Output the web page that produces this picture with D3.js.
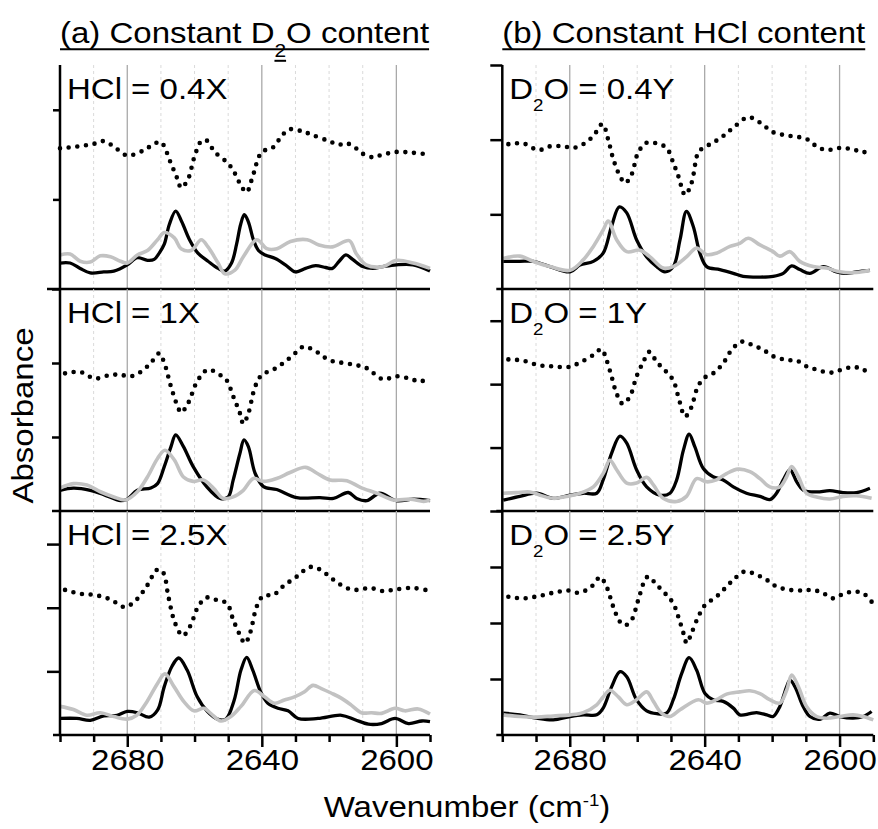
<!DOCTYPE html>
<html>
<head>
<meta charset="utf-8">
<script src="https://cdn.jsdelivr.net/npm/d3@7/dist/d3.min.js"></script>
<style>
  body { margin: 0; background: #fff; }
</style>
</head>
<body>
<svg id="chart" width="878" height="829"></svg>
<script>
// ---------------- data ----------------
// wavenumber ticks (cm-1)
const majorTicks = [2680, 2640, 2600];
const allTicks = [2700, 2690, 2680, 2670, 2660, 2650, 2640, 2630, 2620, 2610, 2600, 2590];
const wnDomain = [2700, 2590];

// column titles and panel labels
const titleA = ["(a) Constant D", "2", "O content"];
const titleB = ["(b) Constant HCl content"];
const labelsA = ["HCl = 0.4X", "HCl = 1X", "HCl = 2.5X"];
const labelsB = ["0.4Y", "1Y", "2.5Y"];   // shown as "D2O = ..."

// vertical extent of each panel in tick units
const yMaxA = [2.5, 3.0, 3.52];
const yMaxB = [3.0, 3.5, 4.0];

// spectra: [wavenumber, absorbance (tick units)]
const a1Dotted = [[2700,1.57],[2695,1.59],[2690,1.62],[2687,1.65],[2684,1.59],[2680,1.49],[2675,1.55],[2672,1.62],[2670,1.64],[2667,1.40],[2665,1.22],[2664,1.13],[2662,1.22],[2660,1.48],[2658,1.65],[2656.5,1.66],[2654,1.53],[2650,1.40],[2648,1.29],[2646,1.14],[2644.5,1.08],[2643,1.22],[2640,1.53],[2637,1.57],[2635,1.66],[2632,1.78],[2628,1.76],[2625,1.72],[2620,1.65],[2617,1.61],[2615,1.63],[2612,1.57],[2610,1.51],[2607,1.47],[2605,1.49],[2600,1.53],[2595,1.52],[2590,1.50]];
const a1Black = [[2700,0.29],[2697,0.29],[2694,0.23],[2691,0.18],[2687,0.19],[2684,0.20],[2680,0.27],[2677,0.35],[2674,0.32],[2672,0.33],[2670.5,0.40],[2669,0.50],[2667.5,0.72],[2665.6,0.87],[2663.8,0.75],[2661.5,0.55],[2659,0.40],[2656,0.31],[2653,0.23],[2651,0.20],[2649,0.29],[2647.5,0.50],[2646.3,0.72],[2645.2,0.83],[2644,0.75],[2642.5,0.55],[2641,0.43],[2639,0.38],[2636,0.34],[2633,0.27],[2630,0.19],[2627,0.23],[2624,0.26],[2621,0.24],[2619,0.23],[2617,0.31],[2615,0.38],[2613,0.33],[2610,0.25],[2607,0.23],[2604,0.25],[2600,0.27],[2595,0.27],[2590,0.20]];
const a1Gray = [[2700,0.38],[2697,0.39],[2694,0.31],[2691,0.30],[2688,0.37],[2685,0.36],[2682,0.31],[2680,0.29],[2677,0.38],[2674,0.43],[2671,0.55],[2669,0.63],[2666,0.57],[2664,0.45],[2661,0.43],[2658,0.55],[2656,0.47],[2653,0.29],[2651,0.17],[2648,0.21],[2645.5,0.36],[2641.5,0.55],[2638.5,0.45],[2635.5,0.45],[2631.5,0.53],[2626.5,0.55],[2623,0.49],[2619,0.47],[2614,0.54],[2612,0.40],[2609,0.27],[2604,0.25],[2600,0.32],[2595,0.29],[2590,0.23]];

const a2Dotted = [[2698.5,1.86],[2694,1.88],[2689.6,1.79],[2685,1.84],[2682,1.84],[2679,1.82],[2676,1.88],[2673,2.00],[2670.5,2.13],[2669,2.00],[2667,1.68],[2665,1.41],[2664,1.33],[2662,1.45],[2659,1.77],[2656,1.91],[2652.5,1.84],[2650.5,1.77],[2648.5,1.55],[2646.5,1.32],[2645.5,1.18],[2644,1.32],[2642,1.68],[2640,1.84],[2636.6,1.91],[2633.6,2.00],[2630.6,2.11],[2627.7,2.22],[2624.7,2.18],[2620,2.04],[2615.8,2.00],[2611.8,1.97],[2608.8,1.93],[2604,1.78],[2600,1.82],[2596,1.79],[2593,1.75],[2590.5,1.79]];
const a2Black = [[2700,0.28],[2696,0.31],[2691,0.28],[2687,0.22],[2682,0.14],[2680,0.16],[2677,0.28],[2673,0.31],[2671,0.37],[2669,0.60],[2667,0.87],[2665.6,1.03],[2663.3,0.87],[2660.4,0.60],[2656.4,0.33],[2652.4,0.17],[2650,0.19],[2648.5,0.42],[2646.5,0.78],[2645.3,0.96],[2644,0.87],[2642,0.51],[2639.5,0.33],[2635.6,0.29],[2629.6,0.18],[2622.7,0.18],[2618.7,0.17],[2614.3,0.25],[2611.8,0.17],[2608.8,0.14],[2604.9,0.24],[2600,0.14],[2595,0.16],[2590,0.14]];
const a2Gray = [[2700,0.31],[2696,0.37],[2692,0.35],[2688,0.26],[2684,0.19],[2680.5,0.15],[2677,0.26],[2674,0.46],[2671,0.71],[2668.8,0.82],[2666,0.69],[2663.3,0.46],[2660.4,0.40],[2657.4,0.42],[2654.4,0.31],[2651.5,0.17],[2648.5,0.19],[2645.5,0.28],[2642.5,0.44],[2639.5,0.40],[2635.6,0.44],[2631.6,0.52],[2627,0.59],[2623.6,0.51],[2619.7,0.42],[2614.7,0.41],[2610.7,0.32],[2605.8,0.24],[2600.9,0.15],[2595.9,0.16],[2591.9,0.13],[2590,0.15]];

const a3Dotted = [[2698.5,2.28],[2694,2.22],[2689.6,2.20],[2685,2.13],[2680.7,2.01],[2677.2,2.13],[2674.2,2.34],[2671,2.60],[2669.3,2.55],[2667.8,2.18],[2665.8,1.76],[2663.5,1.56],[2661.3,1.71],[2658.9,2.02],[2656.4,2.16],[2653.4,2.12],[2650.4,2.07],[2648.5,1.81],[2646.5,1.57],[2645,1.44],[2643.5,1.60],[2641.5,2.02],[2639.5,2.19],[2636.6,2.20],[2633.6,2.34],[2629.6,2.49],[2625.7,2.64],[2622.7,2.60],[2618.7,2.44],[2614.8,2.31],[2611.8,2.28],[2607.8,2.31],[2603.9,2.26],[2600,2.29],[2595,2.31],[2590.5,2.27]];
const a3Black = [[2700,0.26],[2695,0.26],[2691,0.23],[2687,0.30],[2683,0.31],[2680,0.37],[2677,0.35],[2673.5,0.28],[2671,0.39],[2669,0.76],[2666.7,1.08],[2664.7,1.21],[2662.2,1.02],[2659.2,0.60],[2656.2,0.37],[2653.2,0.25],[2650.7,0.25],[2648.2,0.55],[2646.2,1.02],[2644.5,1.22],[2642.7,1.02],[2640.2,0.66],[2638.2,0.50],[2635.2,0.42],[2632.2,0.38],[2629.2,0.26],[2623.3,0.26],[2616.3,0.31],[2612.3,0.24],[2608.3,0.17],[2604.4,0.18],[2600.4,0.26],[2596.4,0.18],[2592.4,0.22],[2590,0.21]];
const a3Gray = [[2700,0.45],[2696,0.40],[2692,0.31],[2688,0.35],[2684,0.29],[2680,0.25],[2677.2,0.31],[2674.2,0.52],[2671,0.81],[2668.8,0.96],[2666.1,0.76],[2663.1,0.52],[2660.2,0.38],[2657.2,0.42],[2655.2,0.34],[2652.2,0.22],[2649.2,0.29],[2646.2,0.45],[2642.2,0.70],[2639.2,0.60],[2636.2,0.50],[2633.3,0.55],[2630.3,0.60],[2627.3,0.68],[2624.8,0.78],[2622.3,0.73],[2619.4,0.66],[2616.4,0.58],[2613.4,0.47],[2610.4,0.35],[2607.4,0.35],[2604.4,0.34],[2600.4,0.42],[2597.5,0.38],[2593.5,0.41],[2590,0.33]];

const b1Dotted = [[2698.2,1.94],[2693.8,1.95],[2689.3,1.86],[2685.9,1.91],[2681.9,1.91],[2679,1.89],[2676,1.94],[2673,2.05],[2670.3,2.21],[2668.6,2.00],[2667.1,1.74],[2665.1,1.51],[2663.6,1.42],[2661.7,1.53],[2659.7,1.83],[2657.2,1.96],[2654.2,1.95],[2651.3,1.89],[2649.3,1.69],[2647.8,1.51],[2645.8,1.26],[2643.9,1.42],[2641.9,1.83],[2640.4,1.89],[2637.5,1.96],[2634.5,2.05],[2631.5,2.16],[2627.1,2.30],[2623.6,2.23],[2619.7,2.10],[2614.7,2.05],[2609.8,2.01],[2606.8,1.91],[2603.9,1.86],[2599.9,1.89],[2596,1.87],[2593,1.83],[2591,1.87]];
const b1Black = [[2699.7,0.37],[2694.8,0.37],[2690.8,0.37],[2685.9,0.30],[2679.9,0.23],[2677,0.32],[2673,0.37],[2670.1,0.48],[2667.6,0.84],[2665.3,1.10],[2663.1,1.02],[2660.2,0.66],[2657.2,0.43],[2654.2,0.30],[2651.8,0.23],[2649.3,0.30],[2647.3,0.66],[2645.4,1.04],[2643.4,0.84],[2641.4,0.48],[2639.4,0.30],[2635.5,0.26],[2631.5,0.21],[2628.6,0.17],[2623.6,0.16],[2619.7,0.17],[2616.7,0.21],[2614.2,0.31],[2611.8,0.26],[2608.8,0.21],[2604.8,0.30],[2600.9,0.23],[2597.9,0.21],[2595,0.23],[2591,0.25]];
const b1Gray = [[2699.7,0.41],[2694.8,0.44],[2690.8,0.37],[2685.9,0.30],[2679.9,0.25],[2676,0.39],[2673,0.57],[2670.1,0.79],[2668.6,0.91],[2666.1,0.66],[2663.1,0.50],[2659.2,0.52],[2656.2,0.43],[2652.3,0.28],[2649.3,0.30],[2645.4,0.43],[2642.4,0.55],[2639.4,0.46],[2636.5,0.48],[2632.5,0.57],[2629.6,0.61],[2627.1,0.68],[2623.6,0.59],[2619.7,0.50],[2617.7,0.44],[2614.7,0.50],[2611.8,0.37],[2607.8,0.30],[2603.9,0.28],[2599.9,0.23],[2595,0.22],[2591,0.25]];

const b2Dotted = [[2698.2,2.39],[2693.8,2.37],[2689.3,2.30],[2684.9,2.28],[2680.4,2.27],[2677,2.34],[2673,2.46],[2670.6,2.55],[2669.1,2.38],[2667.6,2.12],[2666.1,1.85],[2664.3,1.69],[2662.2,1.80],[2660.2,2.12],[2658.2,2.35],[2656.4,2.51],[2654.2,2.35],[2651.3,2.19],[2649.3,2.06],[2647.8,1.80],[2645.8,1.49],[2643.9,1.64],[2642.4,1.91],[2640.4,2.09],[2637.5,2.17],[2634.5,2.33],[2632,2.54],[2629,2.67],[2625.6,2.61],[2622.6,2.54],[2619.7,2.44],[2615.7,2.38],[2612.7,2.37],[2609.8,2.28],[2606.8,2.23],[2602.9,2.18],[2599.9,2.22],[2596,2.27],[2593,2.23],[2590.5,2.14]];
const b2Black = [[2699.7,0.17],[2694.8,0.23],[2689.8,0.28],[2684.9,0.20],[2679.9,0.25],[2676,0.28],[2672,0.28],[2670.1,0.49],[2667.6,0.91],[2665.1,1.18],[2663.1,1.07],[2660.2,0.65],[2657.2,0.38],[2653.3,0.25],[2650.3,0.28],[2648.3,0.49],[2646.3,0.96],[2644.6,1.21],[2642.9,1.01],[2640.4,0.67],[2637.5,0.54],[2634.5,0.49],[2631.5,0.38],[2627.6,0.28],[2623.6,0.23],[2620.7,0.18],[2618.7,0.28],[2616.7,0.49],[2614.7,0.65],[2612.7,0.46],[2610.8,0.33],[2606.8,0.30],[2602.9,0.32],[2599,0.29],[2595,0.29],[2591,0.36]];
const b2Gray = [[2699.7,0.28],[2695.8,0.29],[2691.8,0.30],[2688.8,0.25],[2684.9,0.20],[2681,0.23],[2677,0.28],[2673,0.38],[2670.1,0.59],[2668.1,0.80],[2666.1,0.65],[2663.1,0.44],[2660.2,0.44],[2657.2,0.53],[2655.2,0.41],[2652.3,0.20],[2648.3,0.15],[2645.4,0.23],[2642.4,0.51],[2639.4,0.46],[2636.5,0.49],[2633.5,0.59],[2630.1,0.66],[2626.6,0.62],[2623.6,0.51],[2620.7,0.38],[2617.7,0.38],[2615.7,0.54],[2614.2,0.70],[2612.2,0.54],[2609.8,0.28],[2606.8,0.22],[2602.9,0.19],[2599,0.23],[2595,0.24],[2590.5,0.20]];

const b3Dotted = [[2698.2,2.47],[2693.8,2.44],[2689.3,2.48],[2684.9,2.54],[2680.4,2.58],[2677.5,2.54],[2675,2.59],[2673,2.68],[2671,2.82],[2669.1,2.65],[2667.1,2.29],[2665.1,2.02],[2663.6,1.96],[2661.7,2.05],[2659.7,2.41],[2657.7,2.77],[2656.7,2.83],[2654.2,2.68],[2651.3,2.50],[2649.3,2.35],[2647.8,2.11],[2646.3,1.82],[2645.3,1.64],[2643.9,1.82],[2641.9,2.11],[2639.9,2.32],[2636.5,2.47],[2633.5,2.65],[2631,2.80],[2628.1,2.92],[2624.6,2.86],[2621.6,2.77],[2618.7,2.65],[2614.7,2.59],[2610.8,2.58],[2607.8,2.59],[2604.8,2.53],[2601.9,2.44],[2598.9,2.52],[2596,2.56],[2593,2.53],[2590.5,2.38]];
const b3Black = [[2699.7,0.39],[2694.8,0.36],[2689.8,0.30],[2684.9,0.27],[2679.9,0.33],[2676,0.36],[2672,0.36],[2670.1,0.48],[2667.6,0.86],[2665.1,1.13],[2663.1,1.04],[2660.2,0.63],[2657.2,0.43],[2654.2,0.38],[2651.3,0.39],[2649.3,0.63],[2646.8,1.10],[2644.6,1.38],[2642.4,1.16],[2639.9,0.74],[2637.5,0.63],[2634.5,0.60],[2631.5,0.48],[2629.6,0.36],[2626.6,0.38],[2624.6,0.40],[2621.6,0.36],[2619.7,0.33],[2617.7,0.51],[2615.7,0.86],[2614.7,0.98],[2613.2,0.86],[2610.8,0.51],[2608.8,0.33],[2605.8,0.28],[2602.9,0.39],[2599.9,0.33],[2596,0.30],[2593,0.33],[2590.5,0.42]];
const b3Gray = [[2699.7,0.36],[2694.8,0.33],[2689.8,0.32],[2684.9,0.34],[2679.9,0.36],[2676,0.40],[2672,0.54],[2670.1,0.68],[2668.1,0.80],[2665.6,0.68],[2663.1,0.54],[2660.2,0.63],[2657.2,0.77],[2655.2,0.60],[2652.8,0.39],[2650.3,0.33],[2647.3,0.45],[2641.9,0.63],[2639.4,0.57],[2636.5,0.63],[2633.5,0.73],[2629.6,0.77],[2626.6,0.79],[2623.6,0.74],[2620.7,0.63],[2617.7,0.57],[2615.7,0.80],[2614.2,1.07],[2612.2,0.86],[2609.8,0.51],[2606.8,0.33],[2603.9,0.30],[2599.9,0.33],[2596,0.36],[2593,0.33],[2590,0.27]];

// ---------------- layout ----------------
const FONT = "'Liberation Sans', Arial, Helvetica, sans-serif";
const FS = 30;          // base font size
const SX = 1.1;         // horizontal glyph stretch
const rows = [{top: 65, bottom: 289}, {top: 289, bottom: 511}, {top: 511, bottom: 735}];
const columns = [
  {x0: 60, x1: 430, tickLen: [7, 8, 13], axisExt: [13, 8, 7],
   title: titleA, panels: [
     {yMax: yMaxA[0], label: [labelsA[0]], dotted: a1Dotted, black: a1Black, gray: a1Gray},
     {yMax: yMaxA[1], label: [labelsA[1]], dotted: a2Dotted, black: a2Black, gray: a2Gray},
     {yMax: yMaxA[2], label: [labelsA[2]], dotted: a3Dotted, black: a3Black, gray: a3Gray}]},
  {x0: 502.3, x1: 873.3, tickLen: [12, 12, 12], axisExt: [6, 6, 6],
   title: titleB, panels: [
     {yMax: yMaxB[0], label: ["D", "2", "O = " + labelsB[0]], dotted: b1Dotted, black: b1Black, gray: b1Gray},
     {yMax: yMaxB[1], label: ["D", "2", "O = " + labelsB[1]], dotted: b2Dotted, black: b2Black, gray: b2Gray},
     {yMax: yMaxB[2], label: ["D", "2", "O = " + labelsB[2]], dotted: b3Dotted, black: b3Black, gray: b3Gray}]}
];

const svg = d3.select("#chart");

// text group with horizontally stretched glyphs
function stext(parent, x, y, anchor, size, rotate) {
  const g = parent.append("g")
    .attr("transform", `translate(${x},${y})` + (rotate ? ` rotate(${rotate})` : "") + ` scale(${SX},1)`);
  const t = g.append("text")
    .attr("text-anchor", anchor)
    .attr("font-family", FONT)
    .attr("font-size", size)
    .attr("fill", "#000");
  return {g, t};
}

// text made of [normal, subscript, normal, ...] parts
function richText(t, parts, subSize, subDy) {
  const spans = [];
  parts.forEach((p, i) => {
    const s = t.append("tspan").text(p);
    if (i % 2 === 1) s.attr("font-size", subSize).attr("dy", subDy);
    else if (i > 0) s.attr("dy", -subDy);
    spans.push(s);
  });
  return spans;
}

columns.forEach((col) => {
  const x = d3.scaleLinear().domain(wnDomain).range([col.x0, col.x1]);

  // column title, underlined
  const ttl = stext(svg, col.x0, 43.3, "start", FS);
  const spans = richText(ttl.t, col.title, 19, 14);
  const total = ttl.t.node().getComputedTextLength();
  ttl.g.append("line").attr("x1", 0).attr("x2", total).attr("y1", 6).attr("y2", 6)
    .attr("stroke", "#000").attr("stroke-width", 2);
  if (spans.length > 1) {
    const s0 = spans[0].node().getComputedTextLength();
    const s1 = spans[1].node().getComputedTextLength();
    ttl.g.append("line").attr("x1", s0).attr("x2", s0 + s1).attr("y1", 17.5).attr("y2", 17.5)
      .attr("stroke", "#000").attr("stroke-width", 2);
  }

  col.panels.forEach((p, i) => {
    const r = rows[i];
    const y = d3.scaleLinear().domain([0, p.yMax]).range([r.bottom, r.top]);
    const g = svg.append("g");

    // grid lines
    allTicks.filter(w => w !== 2700 && w !== 2590).forEach(w => {
      const major = majorTicks.includes(w);
      g.append("line")
        .attr("x1", x(w)).attr("x2", x(w)).attr("y1", r.top).attr("y2", r.bottom)
        .attr("stroke", major ? "#a9a9a9" : "#dadada")
        .attr("stroke-width", major ? 1.3 : 1)
        .attr("stroke-dasharray", major ? null : "3,3");
    });

    const line = d3.line().x(d => x(d[0])).y(d => y(d[1])).curve(d3.curveCatmullRom.alpha(0.5));

    g.append("path").datum(p.black).attr("d", line)
      .attr("fill", "none").attr("stroke", "#000").attr("stroke-width", 3.3)
      .attr("stroke-linejoin", "round");
    g.append("path").datum(p.gray).attr("d", line)
      .attr("fill", "none").attr("stroke", "#c2c2c2").attr("stroke-width", 3.6)
      .attr("stroke-linejoin", "round");
    g.append("path").datum(p.dotted).attr("d", line)
      .attr("fill", "none").attr("stroke", "#000").attr("stroke-width", 4.6)
      .attr("stroke-linecap", "round").attr("stroke-dasharray", "0,8.7");

    // y axis ticks
    const yt = d3.range(1, Math.floor(p.yMax + 1e-6) + 1);
    const ya = svg.append("g").attr("transform", `translate(${col.x0},0)`)
      .call(d3.axisLeft(y).tickValues(yt).tickSize(col.tickLen[i]).tickFormat(""));
    ya.select(".domain").remove();
    ya.selectAll(".tick line").attr("stroke", "#000").attr("stroke-width", 2.5);

    // panel baseline
    svg.append("line")
      .attr("x1", col.x0 - col.axisExt[i]).attr("x2", col.x1)
      .attr("y1", r.bottom).attr("y2", r.bottom)
      .attr("stroke", "#000").attr("stroke-width", 2.5);

    // panel label
    const lab = stext(svg, col.x0 + 7, r.top + 33.5, "start", FS);
    richText(lab.t, p.label, 17, 12);

    // wavenumber axis on bottom row
    if (i === rows.length - 1) {
      const xMinor = svg.append("g").attr("transform", `translate(0,${r.bottom})`)
        .call(d3.axisBottom(x).tickValues(allTicks.filter(w => !majorTicks.includes(w))).tickSize(7).tickFormat(""));
      xMinor.select(".domain").remove();
      xMinor.selectAll(".tick line").attr("stroke", "#000").attr("stroke-width", 2.5);
      const xMajor = svg.append("g").attr("transform", `translate(0,${r.bottom})`)
        .call(d3.axisBottom(x).tickValues(majorTicks).tickSize(12).tickFormat(d3.format("d")));
      xMajor.select(".domain").remove();
      xMajor.selectAll(".tick line").attr("stroke", "#000").attr("stroke-width", 2.5);
      xMajor.selectAll(".tick text")
        .attr("y", 35).attr("dy", 0)
        .attr("transform", `scale(${SX},1)`)
        .attr("font-family", FONT).attr("font-size", FS).attr("fill", "#000");
    }
  });

  // continuous y axis line
  svg.append("line")
    .attr("x1", col.x0).attr("x2", col.x0)
    .attr("y1", rows[0].top).attr("y2", rows[rows.length - 1].bottom)
    .attr("stroke", "#000").attr("stroke-width", 2.5);
});

// axis titles
const yl = stext(svg, 33, 415.5, "middle", FS, -90);
yl.t.text("Absorbance");

const xl = stext(svg, 467, 816.7, "middle", FS);
xl.t.append("tspan").text("Wavenumber (cm");
xl.t.append("tspan").attr("font-size", 17).attr("dy", -11).text("-1");
xl.t.append("tspan").attr("dy", 11).text(")");
</script>
</body>
</html>
